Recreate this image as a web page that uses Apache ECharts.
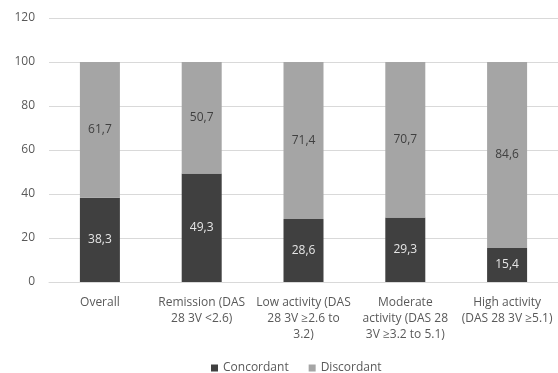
<!DOCTYPE html>
<html>
<head>
<meta charset="utf-8">
<script src="https://cdn.jsdelivr.net/npm/echarts@6/dist/echarts.min.js"></script>
<style>
  html, body { margin: 0; padding: 0; background: #fff; }
  #chart { width: 558px; height: 373px; }
</style>
</head>
<body>
<div id="chart"></div>
<script>
// Concordance by disease activity category (percent)
const categories = [
  'Overall',
  'Remission (DAS\n28 3V <2.6)',
  'Low activity (DAS\n28 3V \u22652.6 to\n3.2)',
  'Moderate\nactivity (DAS 28\n3V \u22653.2 to 5.1)',
  'High activity\n(DAS 28 3V \u22655.1)'
];
const concordant = [38.3, 49.3, 28.6, 29.3, 15.4];
const discordant = [61.7, 50.7, 71.4, 70.7, 84.6];
const yTicks = [0, 20, 40, 60, 80, 100, 120];

const fmt = p => String(p.value).replace('.', ',');
const font = '"Open Sans", "Noto Sans", sans-serif';

const chart = echarts.init(document.getElementById('chart'), null, { renderer: 'canvas' });
chart.setOption({
  animation: false,
  textStyle: { fontFamily: font },
  grid: { left: 49, right: 0, top: 18, bottom: 91 },
  legend: {
    top: 357,
    left: 206,
    itemWidth: 7,
    itemHeight: 7,
    itemGap: 20,
    icon: 'rect',
    textStyle: { color: '#595959', fontSize: 12, fontFamily: font },
    data: ['Concordant', 'Discordant']
  },
  xAxis: {
    type: 'category',
    data: categories,
    axisLine: { lineStyle: { color: '#d9d9d9' } },
    axisTick: { show: false },
    axisLabel: {
      color: '#595959',
      fontSize: 12,
      lineHeight: 16,
      margin: 13,
      interval: 0
    }
  },
  yAxis: {
    type: 'value',
    min: yTicks[0],
    max: yTicks[yTicks.length - 1],
    interval: 20,
    axisLine: { show: false },
    axisTick: { show: false },
    axisLabel: { color: '#595959', fontSize: 12, margin: 14 },
    splitLine: { lineStyle: { color: '#d9d9d9' } }
  },
  series: [
    {
      name: 'Concordant',
      type: 'bar',
      stack: 'total',
      barWidth: 40,
      data: concordant,
      itemStyle: { color: '#404040' },
      label: { show: true, position: 'inside', color: '#e6e6e6', fontSize: 12, formatter: fmt }
    },
    {
      name: 'Discordant',
      type: 'bar',
      stack: 'total',
      barWidth: 40,
      data: discordant,
      itemStyle: { color: '#a5a5a5' },
      label: { show: true, position: 'inside', color: '#404040', fontSize: 12, formatter: fmt }
    }
  ]
});
</script>
</body>
</html>
